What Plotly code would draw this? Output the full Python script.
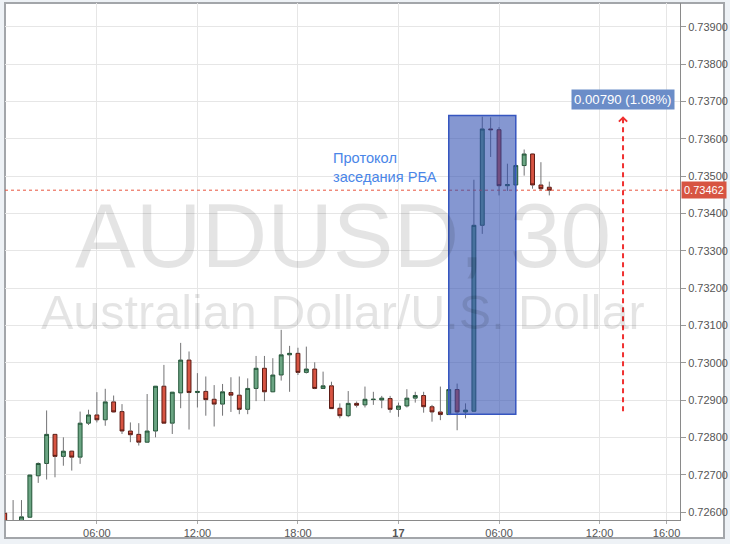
import pandas as pd
import plotly.graph_objects as go

# ---------------- data (AUDUSD, 30 min) ----------------
start_time = "2016-05-16 00:30"
n_bars = 66
times = pd.date_range(start_time, periods=n_bars, freq="30min")

opens = [0.72597, 0.72562, 0.72566, 0.72586, 0.72697, 0.72730, 0.72808, 0.72749, 0.72763, 0.72747,
         0.72838, 0.72860, 0.72847, 0.72895, 0.72869, 0.72817, 0.72808, 0.72787, 0.72817, 0.72937,
         0.72838, 0.72919, 0.73007, 0.72920, 0.72923, 0.72902, 0.72889, 0.72920, 0.72913, 0.72875,
         0.72931, 0.72985, 0.72922, 0.72967, 0.73021, 0.73025, 0.72974, 0.72983, 0.72931, 0.72938,
         0.72878, 0.72858, 0.72891, 0.72887, 0.72901, 0.72900, 0.72904, 0.72875, 0.72884, 0.72905,
         0.72912, 0.72882, 0.72868, 0.72861, 0.72928, 0.72868, 0.72870, 0.73368, 0.73626, 0.73624,
         0.73474, 0.73476, 0.73528, 0.73559, 0.73476, 0.73470]
highs = [0.72600, 0.72632, 0.72632, 0.72700, 0.72733, 0.72872, 0.72809, 0.72800, 0.72764, 0.72869,
         0.72874, 0.72921, 0.72930, 0.72912, 0.72889, 0.72840, 0.72838, 0.72916, 0.72937, 0.72994,
         0.72921, 0.73053, 0.73030, 0.72972, 0.72963, 0.72940, 0.72943, 0.72961, 0.72963, 0.72958,
         0.73018, 0.73018, 0.73012, 0.73088, 0.73045, 0.73040, 0.73043, 0.73001, 0.72976, 0.72949,
         0.72891, 0.72924, 0.72896, 0.72936, 0.72922, 0.72911, 0.72911, 0.72893, 0.72929, 0.72922,
         0.72922, 0.72887, 0.72936, 0.72940, 0.72944, 0.72891, 0.73490, 0.73659, 0.73657, 0.73631,
         0.73533, 0.73533, 0.73571, 0.73560, 0.73537, 0.73485]
lows = [0.72560, 0.72552, 0.72560, 0.72585, 0.72678, 0.72687, 0.72693, 0.72724, 0.72711, 0.72729,
        0.72833, 0.72840, 0.72831, 0.72867, 0.72809, 0.72787, 0.72778, 0.72786, 0.72800, 0.72837,
        0.72809, 0.72878, 0.72821, 0.72880, 0.72858, 0.72829, 0.72858, 0.72868, 0.72862, 0.72862,
        0.72897, 0.72897, 0.72921, 0.72952, 0.72922, 0.72967, 0.72971, 0.72929, 0.72930, 0.72877,
        0.72851, 0.72854, 0.72880, 0.72880, 0.72887, 0.72878, 0.72866, 0.72855, 0.72880, 0.72893,
        0.72866, 0.72842, 0.72846, 0.72861, 0.72819, 0.72851, 0.72870, 0.73345, 0.73551, 0.73448,
        0.73460, 0.73457, 0.73501, 0.73466, 0.73461, 0.73448]
closes = [0.72562, 0.72566, 0.72587, 0.72699, 0.72730, 0.72808, 0.72749, 0.72763, 0.72747, 0.72838,
          0.72860, 0.72847, 0.72895, 0.72868, 0.72817, 0.72807, 0.72787, 0.72817, 0.72937, 0.72838,
          0.72921, 0.73007, 0.72920, 0.72923, 0.72901, 0.72889, 0.72922, 0.72913, 0.72875, 0.72931,
          0.72985, 0.72922, 0.72967, 0.73021, 0.73025, 0.72974, 0.72983, 0.72931, 0.72938, 0.72877,
          0.72858, 0.72891, 0.72886, 0.72902, 0.72902, 0.72905, 0.72875, 0.72884, 0.72905, 0.72912,
          0.72882, 0.72868, 0.72861, 0.72928, 0.72868, 0.72873, 0.73368, 0.73626, 0.73624, 0.73474,
          0.73477, 0.73528, 0.73559, 0.73476, 0.73466, 0.73462]

y_ticks = [0.726, 0.727, 0.728, 0.729, 0.730, 0.731, 0.732, 0.733, 0.734, 0.735, 0.736, 0.737, 0.738, 0.739]
x_tick_vals = ["2016-05-16 06:00", "2016-05-16 12:00", "2016-05-16 18:00", "2016-05-17 00:00",
               "2016-05-17 06:00", "2016-05-17 12:00", "2016-05-17 16:00"]
x_tick_text = ["06:00", "12:00", "18:00", "<b>17</b>", "06:00", "12:00", "16:00"]

last_price = 0.73462
last_price_text = "0.73462"
event_label = "Протокол<br>заседания РБА"
event_start = "2016-05-17 03:00"
event_end = "2016-05-17 07:00"
event_low = 0.72862
event_high = 0.73662
measure_time = "2016-05-17 13:24"
measure_from = 0.72870
measure_to = 0.73660
measure_text = "0.00790 (1.08%)"
watermark_1 = "AUDUSD, 30"
watermark_2 = "Australian Dollar/U.S. Dollar"

# ---------------- figure ----------------
body_top = [max(o, c) for o, c in zip(opens, closes)]
body_bot = [min(o, c) for o, c in zip(opens, closes)]

wx, wy = [], []
for t, h, l, bt, bb in zip(times, highs, lows, body_top, body_bot):
    wx += [t, t, None, t, t, None]
    wy += [h, bt, None, bb, l, None]

fig = go.Figure()
fig.add_trace(go.Scatter(x=wx, y=wy, mode="lines", line=dict(color="#737375", width=1),
                         hoverinfo="skip", showlegend=False))
fig.add_trace(go.Candlestick(
    x=times, open=opens, high=body_top, low=body_bot, close=closes,
    increasing=dict(fillcolor="#6ba583", line=dict(color="#225437", width=1)),
    decreasing=dict(fillcolor="#d75442", line=dict(color="#5b1a13", width=1)),
    whiskerwidth=0, showlegend=False, hoverinfo="skip"))

grid = "#e6e6e6"
fig.update_layout(
    width=730, height=544,
    margin=dict(l=5, r=50, t=3, b=24),
    paper_bgcolor="#eef2f6",
    plot_bgcolor="rgba(0,0,0,0)",
    boxgap=0.34,
    showlegend=False,
    font=dict(family="Liberation Sans, Arial, sans-serif", size=11, color="#555"),
    xaxis=dict(
        type="date",
        range=["2016-05-16 00:31", "2016-05-17 16:48"],
        rangeslider=dict(visible=False),
        tickvals=x_tick_vals, ticktext=x_tick_text,
        showgrid=True, gridcolor=grid, gridwidth=1,
        showline=True, linecolor="#8a8a8a", linewidth=1,
        ticks="outside", ticklen=3, tickcolor="#aaa",
        tickfont=dict(size=11, color="#555"),
        zeroline=False, fixedrange=True, automargin=False,
    ),
    yaxis=dict(
        side="right",
        range=[0.725786, 0.739634],
        tickvals=y_ticks, tickformat=".5f",
        showgrid=True, gridcolor=grid, gridwidth=1,
        showline=True, linecolor="#8a8a8a", linewidth=1,
        ticks="outside", ticklen=5, tickcolor="#999",
        tickfont=dict(size=11, color="#555"),
        zeroline=False, fixedrange=True, automargin=False,
    ),
)

px_w = 675.0
px_h = 517.0
# white chart panel with frame (paper coords)
fig.add_shape(type="rect", xref="paper", yref="paper", layer="below",
              x0=0, x1=(724 - 5) / px_w, y0=(520 - 538) / px_h, y1=1.0,
              fillcolor="white", line=dict(color="#a3a6aa", width=2))

# last price dotted line
fig.add_shape(type="line", xref="paper", yref="y", x0=0, x1=1, y0=last_price, y1=last_price,
              line=dict(color="#e8553f", width=1, dash="dot"))

# event rectangle
fig.add_shape(type="rect", xref="x", yref="y", x0=event_start, x1=event_end,
              y0=event_low, y1=event_high,
              fillcolor="rgba(45,75,175,0.58)", line=dict(color="#3656c0", width=1.5))

# measure arrow shaft
fig.add_shape(type="line", xref="x", yref="y", x0=measure_time, x1=measure_time,
              y0=measure_from, y1=measure_to - 0.00012,
              line=dict(color="#f03030", width=2, dash="5px,4px"))

# watermark
fig.add_annotation(xref="paper", yref="paper", x=0.5, y=(520 - 236) / px_h, text=watermark_1,
                   showarrow=False, xanchor="center", yanchor="middle",
                   font=dict(family="Liberation Sans, Arial, sans-serif", size=91, color="rgba(0,0,0,0.105)"))
fig.add_annotation(xref="paper", yref="paper", x=0.5, y=(520 - 312) / px_h, text=watermark_2,
                   showarrow=False, xanchor="center", yanchor="middle",
                   font=dict(family="Liberation Sans, Arial, sans-serif", size=48.5, color="rgba(0,0,0,0.105)"))

# event label
fig.add_annotation(xref="x", yref="y", x="2016-05-16 20:00", y=0.73522, text=event_label,
                   showarrow=False, xanchor="left", yanchor="middle", align="left",
                   font=dict(family="Liberation Sans, Arial, sans-serif", size=14.6, color="#4a86e8"))

# arrow head
fig.add_annotation(xref="x", yref="y", x=measure_time, y=measure_to, text="",
                   showarrow=True, ax=0, ay=7, arrowhead=4, arrowsize=0.8, arrowwidth=2,
                   arrowcolor="#f03030")

# measure label
fig.add_annotation(xref="x", yref="y", x=measure_time, y=0.73704, text=measure_text,
                   showarrow=False, xanchor="center", yanchor="middle",
                   bgcolor="#6b8dc8", borderpad=2,
                   font=dict(family="Liberation Sans, Arial, sans-serif", size=13.2, color="white"))

# last price label on axis
fig.add_annotation(xref="paper", yref="y", x=1, y=last_price, text=last_price_text,
                   showarrow=False, xanchor="left", yanchor="middle", xshift=1,
                   bgcolor="#d75442", borderpad=2,
                   font=dict(family="Liberation Sans, Arial, sans-serif", size=11, color="white"))

fig.write_html("out.html",
               config={"displayModeBar": False, "staticPlot": True},
               post_script="document.body.style.margin='0';document.body.style.padding='0';")
